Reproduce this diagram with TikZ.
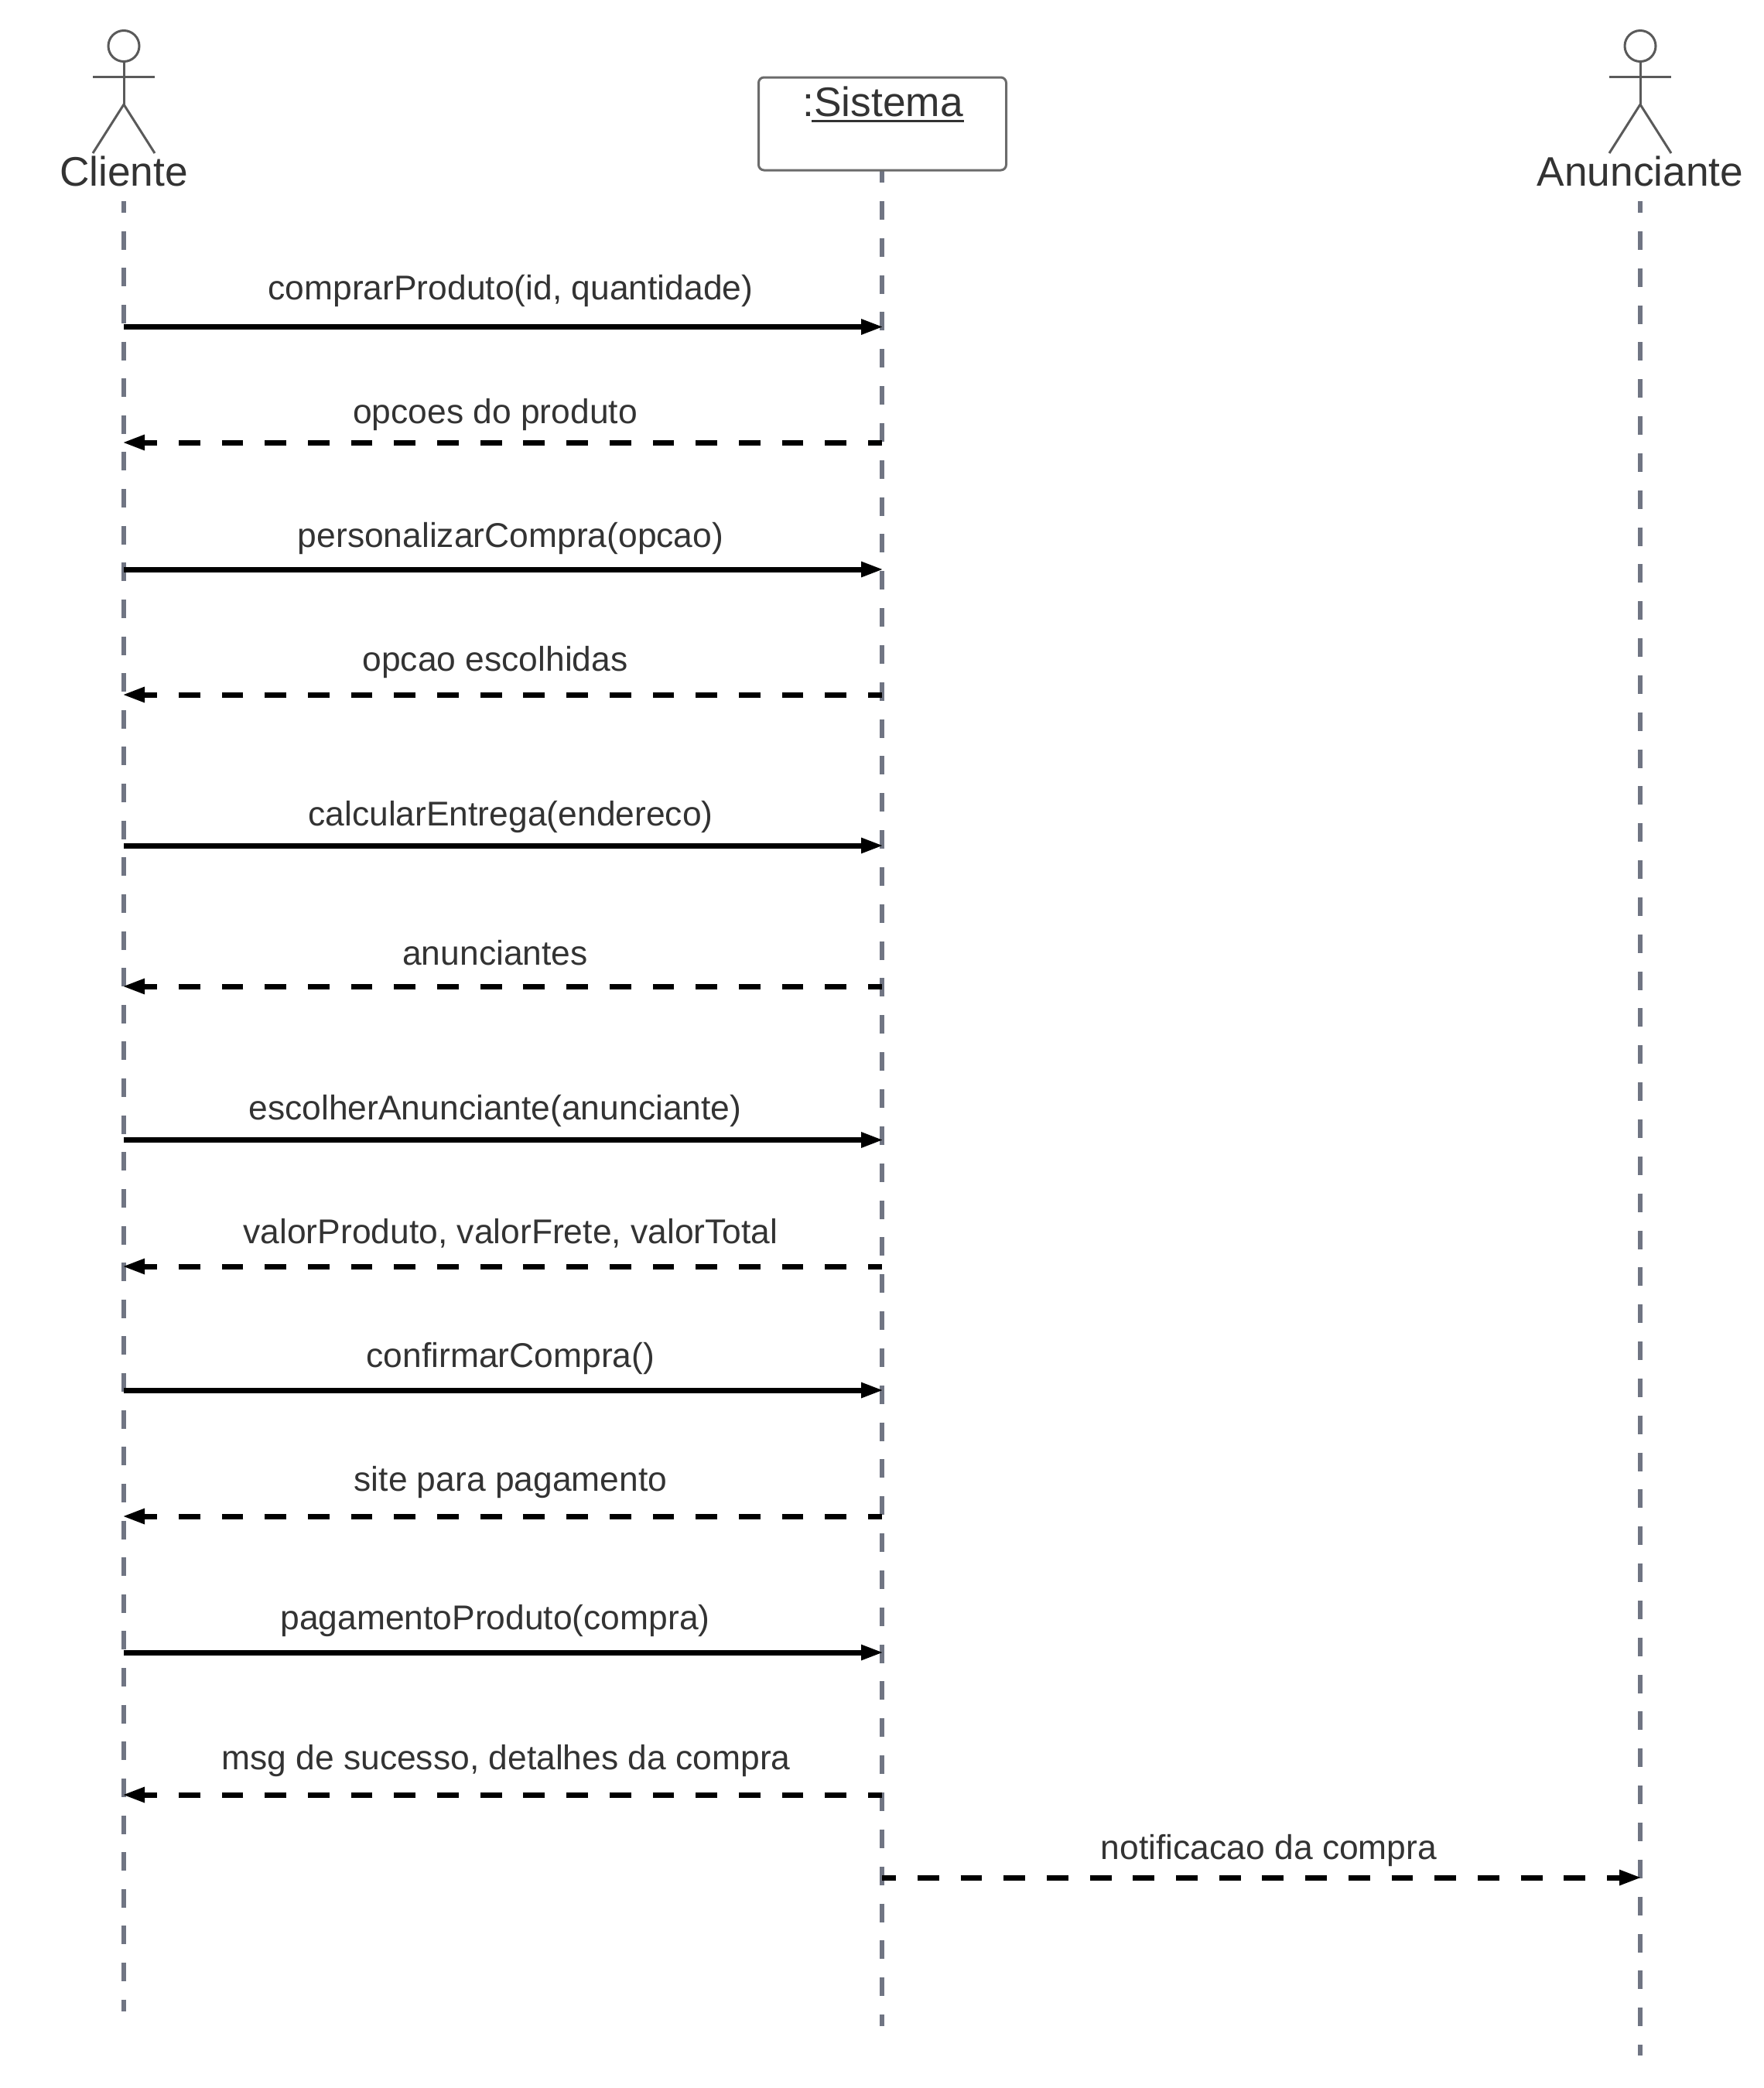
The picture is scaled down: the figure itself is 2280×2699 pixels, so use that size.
\documentclass[tikz,border=0pt]{standalone}
\usepackage{fontspec}
\setmainfont{Liberation Sans}
\usetikzlibrary{arrows.meta}
\definecolor{txt}{HTML}{333333}
\definecolor{life}{HTML}{707583}
\definecolor{figure}{HTML}{5A5A5A}
\tikzset{
  x=1pt,y=-1pt,
  actorline/.style={draw=figure,line width=3pt},
  lifeline/.style={draw=life,line width=6pt,dash pattern=on 24pt off 23.84pt},
  callmsg/.style={draw=black,line width=7pt,shorten >=-2pt,-{Triangle[length=29pt,width=18.5pt]}},
  replymsg/.style={callmsg,dash pattern=on 27.85pt off 27.85pt,dash phase=9.85pt},
  msglabel/.style={anchor=base,inner sep=0pt,text=txt,font=\fontsize{44.4}{50}\selectfont},
  actorlabel/.style={anchor=base,inner sep=0pt,text=txt,font=\fontsize{53.3}{60}\selectfont},
  objbox/.style={draw=figure!90!white,line width=3pt,rounded corners=7pt,fill=white}
}
\begin{document}
\begin{tikzpicture}
\useasboundingbox (0,0) rectangle (2280,2699);
% lifelines
\coordinate (ct) at (160,260); \coordinate (cb) at (160,2600);
\coordinate (st) at (1140,212); \coordinate (sb) at (1140,2619);
\coordinate (at) at (2120,260); \coordinate (ab) at (2120,2657);
\draw[lifeline,dash pattern=on 24pt off 23.625pt,dash phase=9pt] (ct) -- (cb);
\draw[lifeline] (st) -- (sb);
\draw[lifeline,dash phase=9pt] (at) -- (ab);
% actors
\foreach \px/\nm in {160/Cliente,2120/Anunciante}{
  \draw[actorline] (\px,59.5) circle[radius=20pt];
  \draw[actorline] (\px,79.5) -- (\px,135);
  \draw[actorline] (\px-40,99) -- (\px+40,99);
  \draw[actorline] (\px-40,198) -- (\px,135) -- (\px+40,198);
  \node[actorlabel] (lbl\nm) at (\px,240) {\nm};
}
% object
\node[objbox,minimum width=320pt,minimum height=120pt,inner sep=0pt] (sis) at (1140.5,160) {};
\node[actorlabel] (sistxt) at (1141,150) {:Sistema};
\draw[draw=txt,line width=3.5pt] (1049,156.5) -- (1246,156.5);
% message end points
\foreach \i/\yy in {1/422.5,2/572,3/736,4/898,5/1093,6/1275,7/1473.5,8/1637,9/1797,10/1960,11/2136,12/2320,13/2427}{
  \coordinate (c\i) at (160,\yy);
  \coordinate (s\i) at (1140,\yy);
  \coordinate (a\i) at (2120,\yy);
}
% messages
\draw[callmsg] (c1) -- (s1);
\draw[replymsg] (s2) -- (c2);
\draw[callmsg] (c3) -- (s3);
\draw[replymsg] (s4) -- (c4);
\draw[callmsg] (c5) -- (s5);
\draw[replymsg] (s6) -- (c6);
\draw[callmsg] (c7) -- (s7);
\draw[replymsg] (s8) -- (c8);
\draw[callmsg] (c9) -- (s9);
\draw[replymsg] (s10) -- (c10);
\draw[callmsg] (c11) -- (s11);
\draw[replymsg] (s12) -- (c12);
\draw[replymsg] (s13) -- (a13);
% labels
\node[msglabel] (m1) at (660,387) {comprarProduto(id, quantidade)};
\node[msglabel] (m2) at (640,547) {opcoes do produto};
\node[msglabel] (m3) at (660,707) {personalizarCompra(opcao)};
\node[msglabel] (m4) at (640,867) {opcao escolhidas};
\node[msglabel] (m5) at (660,1067) {calcularEntrega(endereco)};
\node[msglabel] (m6) at (640,1247) {anunciantes};
\node[msglabel] (m7) at (640,1447) {escolherAnunciante(anunciante)};
\node[msglabel] (m8) at (660,1607) {valorProduto, valorFrete, valorTotal};
\node[msglabel] (m9) at (660,1767) {confirmarCompra()};
\node[msglabel] (m10) at (660,1927) {site para pagamento};
\node[msglabel] (m11) at (640,2106) {pagamentoProduto(compra)};
\node[msglabel] (m12) at (654,2287) {msg de sucesso, detalhes da compra};
\node[msglabel] (m13) at (1640,2403) {notificacao da compra};
\end{tikzpicture}
\end{document}
